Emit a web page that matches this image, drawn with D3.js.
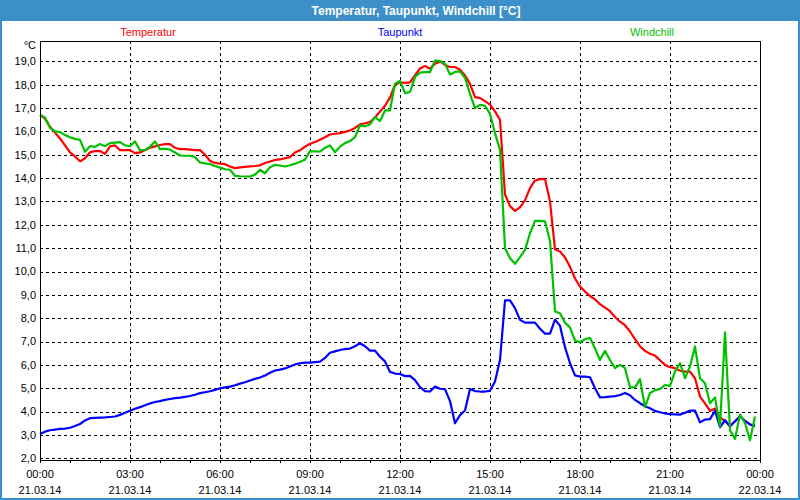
<!DOCTYPE html>
<html>
<head>
<meta charset="utf-8">
<script src="https://cdn.jsdelivr.net/npm/d3@7"></script>
<style>
  body { margin: 0; background: #fff; }
  svg { display: block; font-family: "Liberation Sans", Arial, sans-serif; }
</style>
</head>
<body>
<div id="chart"></div>
<script>
// station log: one sample every 10 minutes, starting at midnight
const startTime = "21.03.14 00:00";
const stepMinutes = 10;
const endTime = "22.03.14 00:00";

const seriesNames = ["Temperatur", "Taupunkt", "Windchill"];
const seriesColors = ["#ff0000", "#0000ff", "#00c000"];

const temperatur = [
  16.71, 16.55, 16.2, 15.95, 15.7, 15.4, 15.1, 14.93, 14.72, 14.85,
  15.11, 15.16, 15.16, 15.04, 15.36, 15.4, 15.2, 15.2, 15.2, 15.07,
  15.1, 15.2, 15.3, 15.36, 15.42, 15.46, 15.46, 15.3, 15.24, 15.24,
  15.22, 15.2, 15.2, 15.0, 14.74, 14.65, 14.62, 14.6, 14.5, 14.43,
  14.46, 14.48, 14.5, 14.52, 14.55, 14.65, 14.71, 14.78, 14.8, 14.85,
  14.9, 15.1, 15.19, 15.35, 15.47, 15.55, 15.64, 15.75, 15.87, 15.9,
  15.93, 15.98, 16.04, 16.15, 16.3, 16.35, 16.4, 16.6, 16.85, 17.1,
  17.45, 18.0, 18.1, 18.08, 18.1, 18.4, 18.7, 18.8, 18.69, 18.9,
  19.0, 18.85, 18.76, 18.76, 18.64, 18.4, 18.04, 17.47, 17.43, 17.3,
  17.15, 16.86, 16.5, 13.3, 12.8, 12.6, 12.75, 13.05, 13.57, 13.9,
  13.96, 13.96, 13.0, 10.95, 10.86, 10.6, 10.2, 9.7, 9.36, 9.14,
  8.95, 8.81, 8.6, 8.45, 8.3, 8.05, 7.85, 7.7, 7.43, 7.1,
  6.8, 6.6, 6.48, 6.4, 6.2, 6.0, 5.9, 5.86, 5.75, 5.71,
  5.71, 5.43, 4.64, 4.35, 4.03, 4.13, 3.75, 3.6, 3.37, 3.59,
  3.8, 3.6, 3.45, 3.39
];

const taupunkt = [
  3.04, 3.14, 3.2, 3.23, 3.26, 3.27, 3.31, 3.38, 3.47, 3.62,
  3.72, 3.73, 3.74, 3.75, 3.77, 3.79, 3.86, 3.95, 4.04, 4.12,
  4.19, 4.27, 4.35, 4.41, 4.45, 4.5, 4.54, 4.58, 4.6, 4.63,
  4.67, 4.72, 4.79, 4.83, 4.87, 4.93, 5.0, 5.04, 5.07, 5.13,
  5.2, 5.26, 5.33, 5.4, 5.46, 5.55, 5.66, 5.76, 5.8, 5.85,
  5.93, 6.02, 6.07, 6.1, 6.1, 6.12, 6.14, 6.3, 6.52, 6.58,
  6.64, 6.68, 6.7, 6.8, 6.93, 6.8, 6.61, 6.61, 6.35, 6.15,
  5.7, 5.63, 5.61, 5.52, 5.53, 5.35, 5.05, 4.88, 4.86, 5.07,
  4.98, 4.96, 4.45, 3.5, 3.85, 4.05, 4.97, 4.88, 4.86, 4.86,
  4.89, 5.29, 6.21, 8.76, 8.76, 8.43, 7.93, 7.81, 7.81, 7.81,
  7.55, 7.34, 7.34, 7.94, 7.68, 6.76, 6.07, 5.55, 5.5, 5.5,
  5.47, 5.0, 4.61, 4.62, 4.64, 4.66, 4.71, 4.8, 4.7, 4.5,
  4.36, 4.23, 4.14, 4.03, 3.97, 3.92, 3.89, 3.88, 3.87, 3.95,
  4.04, 4.04, 3.54, 3.66, 3.68, 4.03, 3.33, 3.63, 3.37, 3.59,
  3.8, 3.6, 3.45, 3.39
];

const windchill = [
  16.71, 16.6, 16.15, 16.0, 15.97, 15.85, 15.75, 15.68, 15.64, 15.13,
  15.37, 15.34, 15.46, 15.37, 15.5, 15.52, 15.54, 15.4, 15.37, 15.57,
  15.2, 15.2, 15.35, 15.57, 15.24, 15.26, 15.22, 15.1, 14.97, 14.96,
  14.96, 14.9, 14.67, 14.63, 14.6, 14.52, 14.45, 14.38, 14.36, 14.1,
  14.08, 14.07, 14.07, 14.15, 14.36, 14.21, 14.47, 14.57, 14.54, 14.5,
  14.55, 14.62, 14.7, 14.79, 15.16, 15.15, 15.14, 15.3, 15.4, 15.11,
  15.35, 15.5, 15.59, 15.76, 16.26, 16.22, 16.3, 16.61, 16.44, 16.9,
  16.9, 18.04, 18.16, 17.64, 17.69, 18.33, 18.52, 18.54, 18.54, 19.04,
  19.02, 18.9, 18.44, 18.55, 18.57, 18.3, 17.61, 17.0, 17.14, 17.1,
  16.75, 15.93, 15.21, 11.0, 10.57, 10.33, 10.62, 10.93, 11.64, 12.17,
  12.17, 12.15, 11.3, 8.29, 8.21, 7.81, 7.6, 7.04, 6.97, 7.1,
  7.16, 6.7, 6.21, 6.6, 6.21, 5.86, 6.0, 5.86, 5.04, 5.04,
  5.39, 4.19, 4.79, 4.92, 4.96, 5.14, 5.1, 5.71, 6.07, 5.43,
  5.93, 6.79, 5.43, 5.21, 4.36, 4.61, 3.36, 7.39, 3.2, 2.83,
  3.87, 3.51, 2.77, 3.79
];

const yTicks = [2, 3, 4, 5, 6, 7, 8, 9, 10, 11, 12, 13, 14, 15, 16, 17, 18, 19];
const title = "Temperatur, Taupunkt, Windchill [°C]";

document.addEventListener("DOMContentLoaded", function () {
  const width = 800;
  const height = 500;
  const margin = { top: 41, right: 40, bottom: 40, left: 40 };
  const barBlue = "#3c8fc8";

  const parse = d3.timeParse("%d.%m.%y %H:%M");
  const t0 = parse(startTime);
  const t1 = parse(endTime);

  const de = d3.formatLocale({ decimal: ",", thousands: ".", grouping: [3], currency: ["", " €"] });
  const fmtY = de.format(".1f");

  const svg = d3
    .select("#chart")
    .append("svg")
    .attr("width", width)
    .attr("height", height);

  svg.append("rect").attr("width", width).attr("height", height).attr("fill", "#fff");

  // title bar + outer frame
  svg.append("rect").attr("x", 0).attr("y", 0).attr("width", width).attr("height", 21).attr("fill", barBlue);
  svg
    .append("rect")
    .attr("x", 1)
    .attr("y", 1)
    .attr("width", width - 2)
    .attr("height", height - 2)
    .attr("fill", "none")
    .attr("stroke", barBlue)
    .attr("stroke-width", 2);
  svg
    .append("text")
    .attr("x", 416)
    .attr("y", 15)
    .attr("text-anchor", "middle")
    .attr("fill", "#fff")
    .style("font-weight", "bold")
    .style("font-size", "12px")
    .text(title);

  const x = d3.scaleTime().domain([t0, t1]).range([margin.left, width - margin.right]);
  const y = d3.scaleLinear().domain([1.927, 19.874]).range([height - margin.bottom, margin.top]);

  // grid
  const grid = svg.append("g").attr("stroke", "#000").attr("stroke-dasharray", "3,3").attr("shape-rendering", "crispEdges");
  grid
    .selectAll("line.h")
    .data(yTicks)
    .join("line")
    .attr("class", "h")
    .attr("x1", margin.left)
    .attr("x2", width - margin.right)
    .attr("y1", (d) => Math.round(y(d)) + 0.5)
    .attr("y2", (d) => Math.round(y(d)) + 0.5);
  grid
    .selectAll("line.v")
    .data(d3.timeHour.every(3).range(d3.timeHour.offset(t0, 1), t1))
    .join("line")
    .attr("class", "v")
    .attr("x1", (d) => Math.round(x(d)) + 0.5)
    .attr("x2", (d) => Math.round(x(d)) + 0.5)
    .attr("y1", margin.top)
    .attr("y2", height - margin.bottom);

  // series
  const series = [temperatur, taupunkt, windchill].map((vals, k) => ({
    name: seriesNames[k],
    color: seriesColors[k],
    points: vals.map((v, i) => ({ t: d3.timeMinute.offset(t0, i * stepMinutes), v: v })),
  }));

  const line = d3
    .line()
    .x((d) => x(d.t))
    .y((d) => y(d.v));

  svg
    .append("g")
    .selectAll("path")
    .data(series)
    .join("path")
    .attr("fill", "none")
    .attr("stroke", (d) => d.color)
    .attr("stroke-width", 2.2)
    .attr("stroke-linejoin", "round")
    .attr("d", (d) => line(d.points));

  // frame
  svg
    .append("rect")
    .attr("x", margin.left + 0.5)
    .attr("y", margin.top + 0.5)
    .attr("width", width - margin.left - margin.right)
    .attr("height", height - margin.top - margin.bottom)
    .attr("fill", "none")
    .attr("stroke", "#000")
    .attr("shape-rendering", "crispEdges");

  // y labels
  const yAxis = svg.append("g").style("font-size", "11px").attr("fill", "#000");
  yAxis
    .selectAll("text")
    .data(yTicks)
    .join("text")
    .attr("x", 36)
    .attr("y", (d) => y(d))
    .attr("dy", "0.35em")
    .attr("text-anchor", "end")
    .text((d) => fmtY(d));
  yAxis.append("text").attr("x", 36).attr("y", 49).attr("text-anchor", "end").text("°C");

  // x axis
  const xAxis = svg
    .append("g")
    .attr("transform", "translate(0," + (height - margin.bottom) + ")")
    .call(
      d3
        .axisBottom(x)
        .ticks(d3.timeHour.every(1))
        .tickSize(3)
        .tickFormat("")
    );
  xAxis.select(".domain").remove();
  xAxis.selectAll(".tick line").attr("stroke", "#000").attr("shape-rendering", "crispEdges");

  const labelTicks = d3.timeHour.every(3).range(t0, d3.timeMinute.offset(t1, 1));
  const xl = svg
    .append("g")
    .style("font-size", "11px")
    .attr("fill", "#000")
    .selectAll("g")
    .data(labelTicks)
    .join("g")
    .attr("transform", (d) => "translate(" + x(d) + ",0)");
  xl.append("text").attr("y", 478).attr("text-anchor", "middle").text(d3.timeFormat("%H:%M"));
  xl.append("text").attr("y", 494).attr("text-anchor", "middle").text(d3.timeFormat("%d.%m.%y"));

  // legend
  svg
    .append("g")
    .style("font-size", "11px")
    .selectAll("text")
    .data(series)
    .join("text")
    .attr("x", (d, i) => 148 + i * 252)
    .attr("y", 36)
    .attr("text-anchor", "middle")
    .attr("fill", (d) => d.color)
    .text((d) => d.name);
});
</script>
</body>
</html>
